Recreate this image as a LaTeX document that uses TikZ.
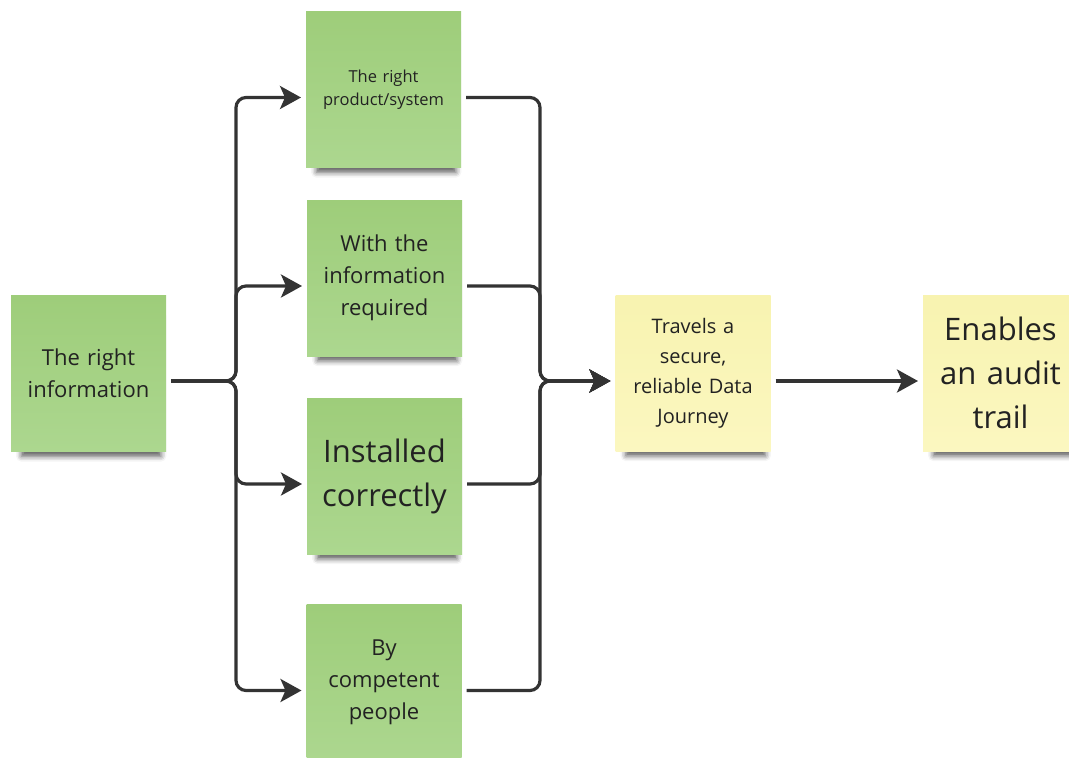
\documentclass[tikz,border=0pt]{standalone}
\usepackage{fontspec}
\setmainfont{Open Sans}
\usetikzlibrary{arrows.meta,shadows.blur}
\definecolor{notegreen}{RGB}{158,205,122}
\definecolor{notegreenlo}{RGB}{172,215,143}
\definecolor{noteyellow}{RGB}{248,243,176}
\definecolor{noteyellowlo}{RGB}{251,247,192}
\definecolor{ink}{RGB}{34,34,34}
\definecolor{wire}{RGB}{51,51,51}

\begin{document}
\begin{tikzpicture}[x=1pt,y=-1pt,
  note/.style={minimum width=155pt,minimum height=156pt,inner sep=4pt,outer sep=5pt,
               align=center,text=ink,text width=145pt,
               top color=notegreen,bottom color=notegreenlo,
               blur shadow={shadow xshift=3pt,shadow yshift=-14pt,shadow scale=0.9,
                            shadow opacity=65,shadow blur radius=6pt}},
  ynote/.style={note,top color=noteyellow,bottom color=noteyellowlo},
  mid/.style={font=\fontsize{22}{32}\selectfont},
  small/.style={font=\fontsize{16.5}{22.5}\selectfont},
  big/.style={font=\fontsize{31}{44}\selectfont},
  conn/.style={line width=3.2pt,draw=wire,rounded corners=10pt},
  e/.style={conn,-{Stealth[length=21pt,width=23pt,inset=5pt]}}]

\useasboundingbox (0,0) rectangle (1069,758);

% ---- source ----
\node[note,mid] (info) at (88.5,373.5) {The right\\information};

% ---- four conditions ----
\node[note,small] (prod) at (383.5,89.5) {The right\\product/system};
\node[note,mid] (withinfo) at (384.5,278) {With the\\information\\required};
\node[note,big] (install) at (384.5,476) {Installed\\correctly};
\node[note,mid] (people) at (384,682.5) {By\\competent\\people};

% ---- outcome ----
\node[ynote,font=\fontsize{20}{30}\selectfont] (journey) at (693,373) {Travels a\\secure,\\reliable Data\\Journey};
\node[ynote,big] (audit) at (1000.5,373) {Enables\\an audit\\trail};

\coordinate (split) at (236,381);
\coordinate (merge) at (540,381);

\foreach \n in {prod,withinfo,install,people}{
  \draw[e] ([yshift=-7.5pt]info.east) -- (split) |- ([yshift=-8pt]\n.west);
  \draw[e] ([yshift=-8pt]\n.east) -| (merge) -- ([yshift=-8pt]journey.west);
}
\draw[e] ([yshift=-8pt]journey.east) -- ([yshift=-8pt]audit.west);
\end{tikzpicture}
\end{document}
